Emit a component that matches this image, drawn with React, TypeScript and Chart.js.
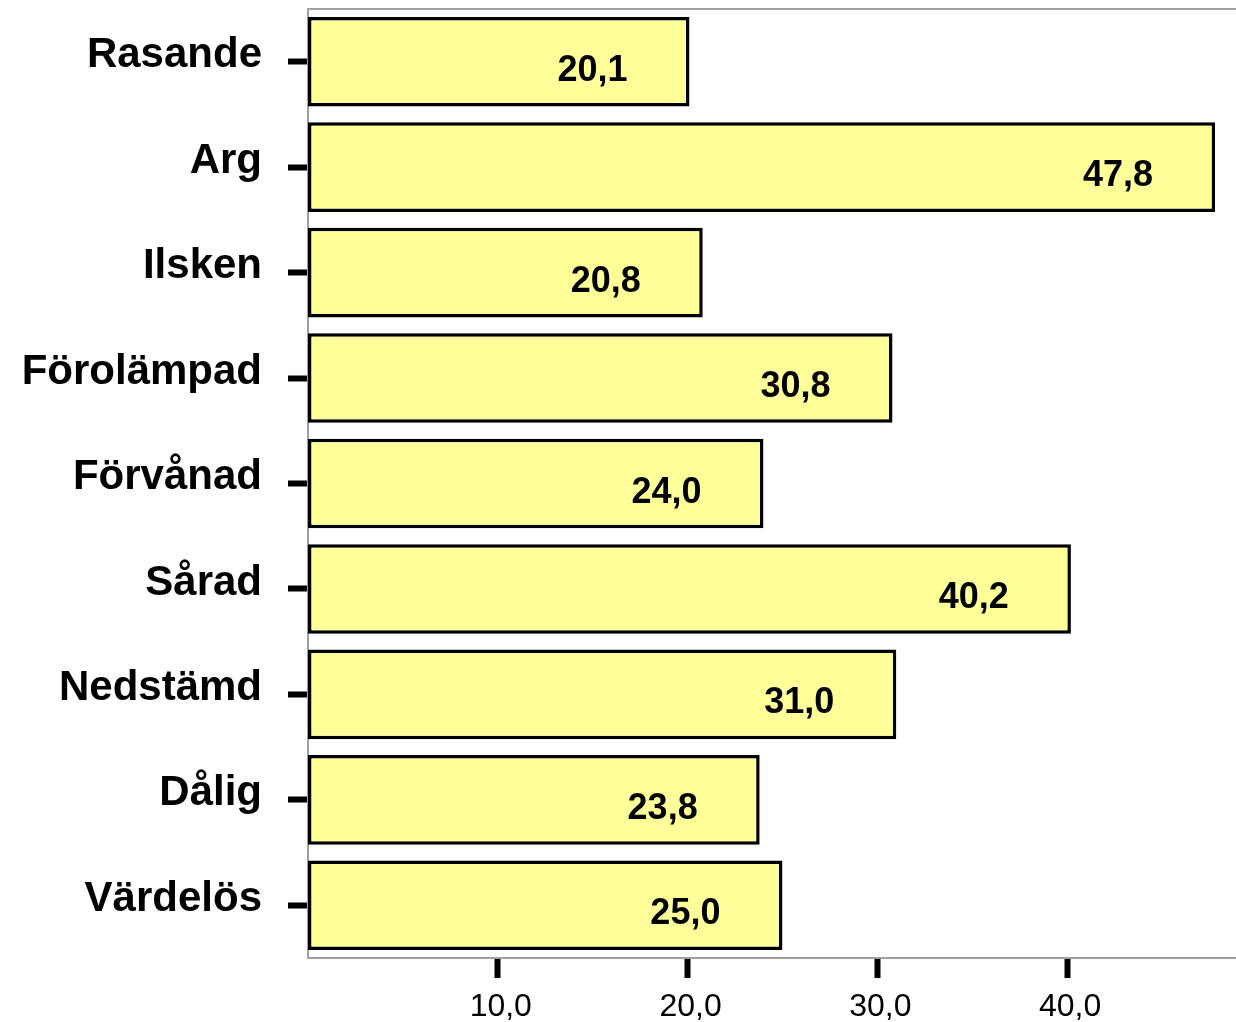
import React, { useEffect, useRef } from "react";
import { Chart, registerables } from "chart.js";

Chart.register(...registerables);

const categories = ["Rasande", "Arg", "Ilsken", "Förolämpad", "Förvånad", "Sårad", "Nedstämd", "Dålig", "Värdelös"];
const values = [20.1, 47.8, 20.8, 30.8, 24.0, 40.2, 31.0, 23.8, 25.0];
const xTickValues = [10, 20, 30, 40];
const xMax = 48.9;

const FONT = '"Liberation Sans", Arial, sans-serif';
const fmt = (v: number) => v.toFixed(1).replace(".", ",");

const framePlugin = {
  id: "frameTop",
  beforeDatasetsDraw(chart: any) {
    const { ctx, chartArea } = chart;
    ctx.save();
    ctx.strokeStyle = "#a0a0a0";
    ctx.lineWidth = 2;
    ctx.beginPath();
    ctx.moveTo(chartArea.left, chartArea.top);
    ctx.lineTo(chartArea.right, chartArea.top);
    ctx.stroke();
    ctx.restore();
  },
};

const valueLabelPlugin = {
  id: "valueLabels",
  afterDatasetsDraw(chart: any) {
    const { ctx } = chart;
    const meta = chart.getDatasetMeta(0);
    ctx.save();
    ctx.fillStyle = "#000";
    ctx.font = `bold 36px ${FONT}`;
    ctx.textAlign = "right";
    ctx.textBaseline = "alphabetic";
    meta.data.forEach((bar: any, i: number) => {
      ctx.fillText(fmt(values[i]), bar.x - 62, bar.y + 19);
    });
    ctx.restore();
  },
};

export default function App() {
  const ref = useRef<HTMLCanvasElement | null>(null);

  useEffect(() => {
    if (!ref.current) return;
    const chart = new Chart(ref.current, {
      type: "bar",
      data: {
        labels: categories,
        datasets: [
          {
            data: values,
            backgroundColor: "#FFFF99",
            borderColor: "#000000",
            borderWidth: 3.5,
            borderSkipped: false,
            categoryPercentage: 1,
            barPercentage: 0.85,
          },
        ],
      },
      options: {
        indexAxis: "y",
        animation: false,
        responsive: true,
        maintainAspectRatio: false,
        layout: { padding: { top: 9, right: 0, left: 0, bottom: 0 } },
        plugins: {
          legend: { display: false },
          tooltip: { enabled: false },
        },
        scales: {
          x: {
            type: "linear",
            min: 0,
            max: xMax,
            afterBuildTicks: (scale: any) => {
              scale.ticks = xTickValues.map((v) => ({ value: v }));
            },
            afterFit: (scale: any) => {
              scale.height = 64;
              scale.paddingLeft = 0;
              scale.paddingRight = 0;
            },
            grid: {
              drawOnChartArea: false,
              drawTicks: true,
              tickLength: 20,
              tickColor: "#000",
              tickWidth: 6,
            },
            border: { display: true, color: "#a0a0a0", width: 2 },
            ticks: {
              autoSkip: false,
              maxRotation: 0,
              padding: 10,
              labelOffset: 3,
              color: "#000",
              font: { family: FONT, size: 32 },
              callback: (v: any) => fmt(Number(v)),
            },
          },
          y: {
            type: "category",
            offset: true,
            afterFit: (scale: any) => {
              scale.width = 308;
              scale.paddingTop = 0;
              scale.paddingBottom = 0;
            },
            grid: {
              offset: false,
              drawOnChartArea: false,
              drawTicks: true,
              tickLength: 20,
              tickColor: "#000",
              tickWidth: 6,
            },
            border: { display: true, color: "#a0a0a0", width: 2 },
            ticks: {
              autoSkip: false,
              padding: 26,
              labelOffset: -6,
              color: "#000",
              font: { family: FONT, size: 42, weight: "bold" },
            },
          },
        },
      },
      plugins: [framePlugin, valueLabelPlugin],
    } as any);
    return () => chart.destroy();
  }, []);

  return (
    <div style={{ position: "fixed", left: 0, top: 0, width: 1236, height: 1022, background: "#fff" }}>
      <canvas ref={ref} />
    </div>
  );
}
